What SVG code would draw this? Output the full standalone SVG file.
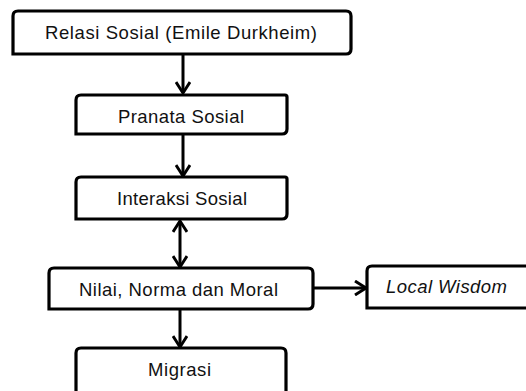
<svg xmlns="http://www.w3.org/2000/svg" width="526" height="391" viewBox="0 0 526 391">
<defs>
<style>
.box{fill:#fff;stroke:#000;stroke-width:3.2}
.t{font-family:"Liberation Sans",Arial,sans-serif;font-size:18.5px;fill:#111;text-anchor:start}
.ln{stroke:#000;stroke-width:3;fill:none}
</style>
<marker id="ah" viewBox="0 0 16 16" refX="14" refY="8" markerWidth="16" markerHeight="16" markerUnits="userSpaceOnUse" orient="auto-start-reverse">
<path d="M3,1 L14,8 L3,15" fill="none" stroke="#000" stroke-width="2.9"/>
</marker>
</defs>
<rect width="526" height="391" fill="#fff"/>
<g id="connectors">
<line class="ln" x1="183" y1="54" x2="183" y2="93" marker-end="url(#ah)"/>
<line class="ln" x1="183" y1="134" x2="183" y2="176" marker-end="url(#ah)"/>
<line class="ln" x1="180" y1="221" x2="180" y2="267" marker-start="url(#ah)" marker-end="url(#ah)"/>
<line class="ln" x1="313" y1="288" x2="366" y2="288" marker-end="url(#ah)"/>
<line class="ln" x1="180" y1="309" x2="180" y2="347" marker-end="url(#ah)"/>
</g>
<g id="n1">
<path class="box" d="M13,54 L13,16 Q13,11 18,11 L346,11 Q351,11 351,16 L351,49 Q351,54 346,54 Z"/>
<text class="t" x="45" y="39" textLength="272">Relasi Sosial (Emile Durkheim)</text>
</g>
<g id="n2">
<path class="box" d="M76,134 L76,100 Q76,95 81,95 L285,95 Q287,95 287,97 L287,129 Q287,134 282,134 Z"/>
<text class="t" x="118" y="123" textLength="126">Pranata Sosial</text>
</g>
<g id="n3">
<path class="box" d="M76,219 L76,182 Q76,177 81,177 L285,177 Q287,177 287,179 L287,214 Q287,219 282,219 Z"/>
<text class="t" x="117" y="205" textLength="130">Interaksi Sosial</text>
</g>
<g id="n4">
<path class="box" d="M49,309 L49,273 Q49,268 54,268 L308,268 Q313,268 313,273 L313,304 Q313,309 308,309 Z"/>
<text class="t" x="79" y="296" textLength="199">Nilai, Norma dan Moral</text>
</g>
<g id="n5">
<path class="box" d="M367,308 L367,271 Q367,266 372,266 L530,266 L530,308 Z"/>
<text class="t" x="386" y="293" textLength="121" font-style="italic">Local Wisdom</text>
</g>
<g id="n6">
<path class="box" d="M76,395 L76,353 Q76,348 81,348 L281,348 Q286,348 286,353 L286,395"/>
<text class="t" x="148" y="376" textLength="63">Migrasi</text>
</g>
</svg>
